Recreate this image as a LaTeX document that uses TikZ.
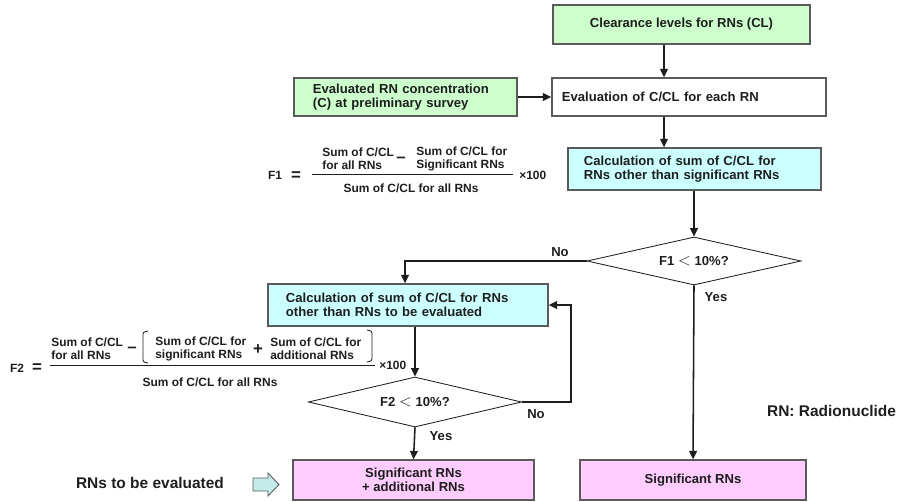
\documentclass[tikz,border=0pt]{standalone}
\usepackage{fontspec}
\setmainfont{Liberation Sans}
\usetikzlibrary{shapes.geometric,arrows.meta,positioning,calc}
\definecolor{boxgreen}{RGB}{204,255,204}
\definecolor{boxcyan}{RGB}{204,255,255}
\definecolor{boxpink}{RGB}{255,204,255}
\definecolor{pointcyan}{RGB}{196,234,234}
\definecolor{edgegray}{RGB}{90,90,90}
\definecolor{inkcolor}{RGB}{30,30,30}
\newcommand{\boxfont}{\fontsize{9.3}{10.3}\selectfont\bfseries}
\newcommand{\formfont}{\fontsize{8.5}{9.4}\selectfont\bfseries}
\newcommand{\notefont}{\fontsize{11}{13}\selectfont\bfseries}

\tikzset{
flowbox/.style={draw=edgegray, line width=0.9pt, rectangle, inner ysep=0pt, font=\boxfont, text=inkcolor},
decision/.style={draw=inkcolor, line width=0.6pt, diamond, aspect=4.4, inner sep=0pt, font=\boxfont, text=inkcolor},
flow/.style={draw=inkcolor, line width=1.1pt, -{Triangle[length=6pt,width=5.5pt]}},
answer/.style={font=\boxfont, text=inkcolor, inner sep=0pt},
formula/.style={font=\formfont, text=inkcolor, inner sep=0pt, align=left},
}

\begin{document}
\begin{tikzpicture}[x=0.025cm, y=-0.025cm]
\useasboundingbox (0,0) rectangle (905,501);

% ================= INPUT BOXES =================
\node[flowbox, fill=boxgreen, minimum width=6.425cm, minimum height=0.975cm]
(cl) at (681.5,24.5) {Clearance levels for RNs (CL)};

\node[flowbox, fill=boxgreen, minimum width=5.575cm, minimum height=0.95cm,
inner xsep=0.475cm, text width=4.625cm, align=left]
(conc) at (405.5,97) {Evaluated RN concentration\\(C) at preliminary survey};

\node[flowbox, fill=white, minimum width=6.85cm, minimum height=0.95cm,
inner xsep=0.25cm, text width=6.35cm, align=left]
(eval) at (689,97) {Evaluation of C/CL for each RN};

% ================= FIRST CHECK =================
\node[flowbox, fill=boxcyan, minimum width=6.325cm, minimum height=1.05cm,
inner xsep=0.4cm, text width=5.525cm, align=left]
(calc1) at (694.5,169) {Calculation of sum of C/CL for\\RNs other than significant RNs};

\node[decision, minimum width=5.35cm, minimum height=1.2cm]
(dia1) at (694,261) {F1 {\large$<$} 10\%?};

% ================= SECOND CHECK =================
\node[flowbox, fill=boxcyan, minimum width=7.0cm, minimum height=1.05cm,
inner xsep=0.45cm, text width=6.1cm, align=left]
(calc2) at (408,305) {Calculation of sum of C/CL for RNs\\other than RNs to be evaluated};

\node[decision, minimum width=5.33cm, minimum height=1.25cm]
(dia2) at (415,402) {F2 {\large$<$} 10\%?};

% ================= RESULTS =================
\node[flowbox, fill=boxpink, minimum width=6.025cm, minimum height=1.0cm, align=center]
(sigadd) at (413.5,480) {Significant RNs\\+ additional RNs};

\node[flowbox, fill=boxpink, minimum width=5.65cm, minimum height=1.0cm]
(sig) at (693,480) {Significant RNs};

\node[font=\notefont, text=inkcolor] (tobe) at (150,483) {RNs to be evaluated};
\draw[draw=edgegray, line width=0.6pt, fill=pointcyan]
(253,478) -- (268,478) -- (268,473) -- (279,484.5) -- (268,496) -- (268,491) -- (253,491) -- cycle;

\node[font=\notefont, text=inkcolor, anchor=east] (legend) at (901,411) {RN: Radionuclide};

% ================= CONNECTORS =================
\coordinate (colA) at (664,0);
\coordinate (colB) at (405,0);
\coordinate (loopR) at (571,0);

\draw[flow] (cl.south -| colA) -- (eval.north -| colA);
\draw[flow] (conc) -- (eval);
\draw[flow] (eval.south -| colA) -- (calc1.north -| colA);
\draw[flow] (calc1.south -| dia1.north) -- (dia1.north);
\draw[flow] (dia1.west) -| (calc2.north -| colB);
\draw[flow] (dia1.south) -- (sig.north);
\draw[flow] (calc2.south -| dia2.north) -- (dia2.north);
\draw[flow] (dia2.east) -| (loopR |- calc2.east) -- (calc2.east);
\draw[flow] (dia2.south) -- (sigadd.north);

\node[answer] (no1) at (560,252) {No};
\node[answer] (yes1) at (716,297) {Yes};
\node[answer] (no2) at (536,414) {No};
\node[answer] (yes2) at (441,436) {Yes};

% ================= FORMULA F1 =================
\node[formula] (f1name) at (275,175) {F1};
\node[formula] (f1eq) at (296,176) {\large =};
\node[formula, anchor=west] (f1a) at (322,159) {Sum of C/CL\\for all RNs};
\node[formula] (f1minus) at (401,160) {\large --};
\node[formula, anchor=west] (f1b) at (416,159) {Sum of C/CL for\\Significant RNs};
\draw[draw=inkcolor, line width=0.7pt] (312,174) -- (513,174);
\node[formula] (f1den) at (411,188) {Sum of C/CL for all RNs};
\node[formula, anchor=west] (f1times) at (519,175) {×100};

% ================= FORMULA F2 =================
\node[formula] (f2name) at (17,368) {F2};
\node[formula] (f2eq) at (37,368) {\large =};
\node[formula, anchor=west] (f2a) at (51,349) {Sum of C/CL\\for all RNs};
\node[formula] (f2minus) at (132,350) {\large --};
\draw[draw=inkcolor, line width=0.6pt]
(148,331) .. controls (143,332) .. (143,337) -- (143,357) .. controls (143,362) .. (148,363);
\node[formula, anchor=west] (f2b) at (155,349) {Sum of C/CL for\\significant RNs};
\node[formula] (f2plus) at (258,350) {\large +};
\node[formula, anchor=west] (f2c) at (270,349) {Sum of C/CL for\\additional RNs};
\draw[draw=inkcolor, line width=0.6pt]
(367,330) .. controls (372,331) .. (372,336) -- (372,356) .. controls (372,361) .. (367,362);
\draw[draw=inkcolor, line width=0.7pt] (50,365) -- (375,365);
\node[formula] (f2den) at (210,382) {Sum of C/CL for all RNs};
\node[formula, anchor=west] (f2times) at (379,365) {×100};

\end{tikzpicture}
\end{document}
